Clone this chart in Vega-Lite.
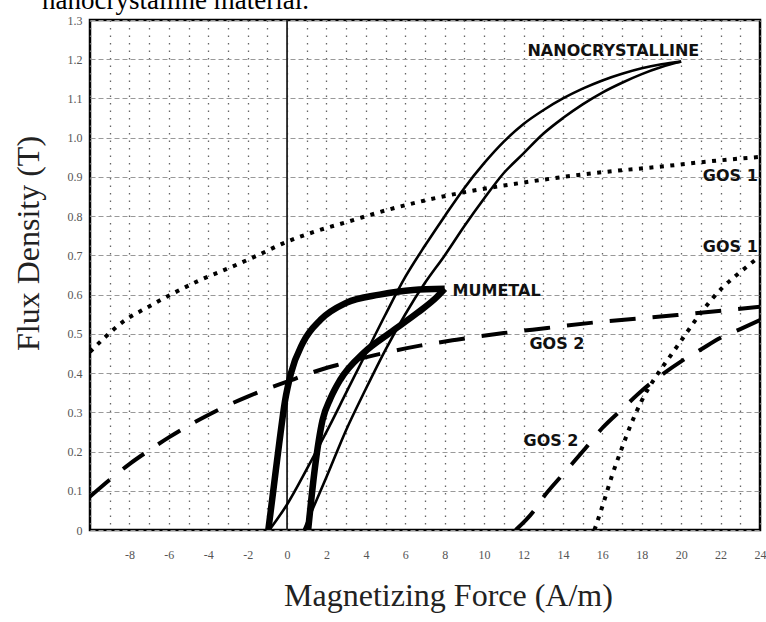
{
  "$schema": "https://vega.github.io/schema/vega-lite/v6.json",
  "width": 670,
  "height": 510,
  "autosize": {"type": "none"},
  "padding": {"left": 90, "top": 20, "right": 6, "bottom": 92},
  "background": "#ffffff",
  "title": {"text": "nanocrystalline material.", "anchor": "start", "frame": "group", "font": "Liberation Serif", "fontSize": 27, "fontWeight": "normal", "color": "#000000", "offset": 3, "baseline": "alphabetic", "dx": -48, "dy": 25},
  "config": {"view": {"stroke": "#000000", "strokeWidth": 2.5}},
  "datasets": {
    "curves": [
      {"c":"nanoA","x":-0.9,"y":0},{"c":"nanoA","x":0,"y":0.065},{"c":"nanoA","x":1,"y":0.155},{"c":"nanoA","x":2,"y":0.25},{"c":"nanoA","x":3,"y":0.35},{"c":"nanoA","x":4,"y":0.45},{"c":"nanoA","x":5,"y":0.55},{"c":"nanoA","x":6,"y":0.645},{"c":"nanoA","x":7,"y":0.725},{"c":"nanoA","x":8,"y":0.8},{"c":"nanoA","x":9,"y":0.872},{"c":"nanoA","x":10,"y":0.935},{"c":"nanoA","x":11,"y":0.99},{"c":"nanoA","x":12,"y":1.035},{"c":"nanoA","x":13,"y":1.07},{"c":"nanoA","x":14,"y":1.1},{"c":"nanoA","x":15,"y":1.125},{"c":"nanoA","x":16,"y":1.146},{"c":"nanoA","x":17,"y":1.163},{"c":"nanoA","x":18,"y":1.177},{"c":"nanoA","x":19,"y":1.187},{"c":"nanoA","x":20,"y":1.194},
      {"c":"nanoB","x":0.85,"y":0},{"c":"nanoB","x":1.27,"y":0.05},{"c":"nanoB","x":2,"y":0.135},{"c":"nanoB","x":3,"y":0.255},{"c":"nanoB","x":4,"y":0.36},{"c":"nanoB","x":5,"y":0.46},{"c":"nanoB","x":6,"y":0.55},{"c":"nanoB","x":7,"y":0.63},{"c":"nanoB","x":8,"y":0.7},{"c":"nanoB","x":9,"y":0.775},{"c":"nanoB","x":10,"y":0.845},{"c":"nanoB","x":11,"y":0.91},{"c":"nanoB","x":12,"y":0.96},{"c":"nanoB","x":13,"y":1.01},{"c":"nanoB","x":14,"y":1.05},{"c":"nanoB","x":15,"y":1.085},{"c":"nanoB","x":16,"y":1.115},{"c":"nanoB","x":17,"y":1.14},{"c":"nanoB","x":18,"y":1.162},{"c":"nanoB","x":19,"y":1.18},{"c":"nanoB","x":20,"y":1.194},
      {"c":"muA","x":-0.95,"y":0},{"c":"muA","x":-0.7,"y":0.1},{"c":"muA","x":-0.4,"y":0.22},{"c":"muA","x":-0.1,"y":0.33},{"c":"muA","x":0.2,"y":0.4},{"c":"muA","x":0.8,"y":0.477},{"c":"muA","x":1.7,"y":0.536},{"c":"muA","x":3,"y":0.579},{"c":"muA","x":4.7,"y":0.6},{"c":"muA","x":6.4,"y":0.612},{"c":"muA","x":8,"y":0.615},
      {"c":"muB","x":1.07,"y":0},{"c":"muB","x":1.4,"y":0.153},{"c":"muB","x":1.8,"y":0.28},{"c":"muB","x":2.2,"y":0.335},{"c":"muB","x":2.7,"y":0.383},{"c":"muB","x":3.9,"y":0.452},{"c":"muB","x":5.2,"y":0.502},{"c":"muB","x":6.6,"y":0.553},{"c":"muB","x":7.6,"y":0.594},{"c":"muB","x":8,"y":0.615},
      {"c":"gos1a","x":-10,"y":0.454},{"c":"gos1a","x":-9.2,"y":0.493},{"c":"gos1a","x":-8.4,"y":0.528},{"c":"gos1a","x":-7,"y":0.57},{"c":"gos1a","x":-5.9,"y":0.6},{"c":"gos1a","x":-4.5,"y":0.635},{"c":"gos1a","x":-2.8,"y":0.671},{"c":"gos1a","x":-1.5,"y":0.7},{"c":"gos1a","x":0,"y":0.735},{"c":"gos1a","x":1.5,"y":0.762},{"c":"gos1a","x":3.1,"y":0.786},{"c":"gos1a","x":5.1,"y":0.816},{"c":"gos1a","x":7,"y":0.84},{"c":"gos1a","x":9.1,"y":0.862},{"c":"gos1a","x":11,"y":0.878},{"c":"gos1a","x":13,"y":0.893},{"c":"gos1a","x":16,"y":0.912},{"c":"gos1a","x":18.9,"y":0.926},{"c":"gos1a","x":21.5,"y":0.94},{"c":"gos1a","x":24,"y":0.951},
      {"c":"gos1b","x":15.6,"y":0},{"c":"gos1b","x":16,"y":0.06},{"c":"gos1b","x":16.5,"y":0.14},{"c":"gos1b","x":17,"y":0.21},{"c":"gos1b","x":17.5,"y":0.275},{"c":"gos1b","x":18,"y":0.33},{"c":"gos1b","x":18.7,"y":0.39},{"c":"gos1b","x":19.4,"y":0.44},{"c":"gos1b","x":20.1,"y":0.49},{"c":"gos1b","x":20.8,"y":0.54},{"c":"gos1b","x":21.5,"y":0.585},{"c":"gos1b","x":22.1,"y":0.618},{"c":"gos1b","x":22.7,"y":0.645},{"c":"gos1b","x":23.35,"y":0.672},{"c":"gos1b","x":24,"y":0.698},
      {"c":"gos2a","x":-10,"y":0.085},{"c":"gos2a","x":-9,"y":0.128},{"c":"gos2a","x":-8,"y":0.168},{"c":"gos2a","x":-7,"y":0.203},{"c":"gos2a","x":-6,"y":0.236},{"c":"gos2a","x":-5,"y":0.266},{"c":"gos2a","x":-4,"y":0.293},{"c":"gos2a","x":-3,"y":0.318},{"c":"gos2a","x":-2,"y":0.34},{"c":"gos2a","x":-1,"y":0.36},{"c":"gos2a","x":0,"y":0.378},{"c":"gos2a","x":1.3,"y":0.402},{"c":"gos2a","x":2.5,"y":0.42},{"c":"gos2a","x":4.4,"y":0.445},{"c":"gos2a","x":6.75,"y":0.47},{"c":"gos2a","x":8.6,"y":0.485},{"c":"gos2a","x":11,"y":0.502},{"c":"gos2a","x":13.2,"y":0.515},{"c":"gos2a","x":15.4,"y":0.528},{"c":"gos2a","x":19.8,"y":0.548},{"c":"gos2a","x":24,"y":0.569},
      {"c":"gos2b","x":11.6,"y":0},{"c":"gos2b","x":12.5,"y":0.047},{"c":"gos2b","x":13,"y":0.083},{"c":"gos2b","x":14,"y":0.142},{"c":"gos2b","x":15,"y":0.2},{"c":"gos2b","x":16,"y":0.26},{"c":"gos2b","x":17,"y":0.308},{"c":"gos2b","x":18,"y":0.355},{"c":"gos2b","x":19,"y":0.395},{"c":"gos2b","x":20,"y":0.43},{"c":"gos2b","x":21,"y":0.46},{"c":"gos2b","x":22,"y":0.49},{"c":"gos2b","x":23,"y":0.512},{"c":"gos2b","x":24,"y":0.535}
    ],
    "labels": [
      {"label":"NANOCRYSTALLINE","x":12.2,"y":1.222},
      {"label":"MUMETAL","x":8.4,"y":0.61},
      {"label":"GOS 2","x":12.3,"y":0.474},
      {"label":"GOS 1","x":21.1,"y":0.903},
      {"label":"GOS 1","x":21.1,"y":0.722},
      {"label":"GOS 2","x":12.0,"y":0.227}
    ],
    "zero": [{"x":0,"y":0,"y2":1.3}]
  },
  "encoding": {
    "x": {"field": "x", "type": "quantitative",
      "scale": {"domain": [-10, 24], "nice": false, "zero": false},
      "axis": {
        "values": [-10,-9,-8,-7,-6,-5,-4,-3,-2,-1,0,1,2,3,4,5,6,7,8,9,10,11,12,13,14,15,16,17,18,19,20,21,22,23,24],
        "labelExpr": "(datum.value % 2 == 0 && datum.value > -10) ? ('' + datum.value) : ''",
        "grid": true, "gridDash": [1.5, 6], "gridColor": "#666666", "gridWidth": 1.3,
        "ticks": false, "domain": false,
        "labelPadding": 19, "labelFont": "Liberation Serif", "labelFontSize": 12, "labelColor": "#555555",
        "labelOverlap": false, "labelFlush": false,
        "title": "Magnetizing Force (A/m)", "titleFont": "Liberation Serif", "titleFontSize": 32, "titleFontWeight": "normal", "titleColor": "#222222",
        "titleX": 358, "titleY": 75, "titleAlign": "center", "titleBaseline": "alphabetic"
      }},
    "y": {"field": "y", "type": "quantitative",
      "scale": {"domain": [0, 1.3], "nice": false, "zero": false},
      "axis": {
        "values": [0,0.1,0.2,0.3,0.4,0.5,0.6,0.7,0.8,0.9,1.0,1.1,1.2,1.3],
        "labelExpr": "datum.value == 0 ? '0' : format(datum.value, '.1f')",
        "grid": true, "gridDash": [5, 3], "gridColor": "#999999", "gridWidth": 1,
        "ticks": false, "domain": false,
        "labelPadding": 8, "labelFont": "Liberation Serif", "labelFontSize": 12, "labelColor": "#555555",
        "labelOverlap": false, "labelFlush": false,
        "title": "Flux Density (T)", "titleFont": "Liberation Serif", "titleFontSize": 32, "titleFontWeight": "normal", "titleColor": "#222222",
        "titleX": -62, "titleY": 223, "titleAlign": "center", "titleBaseline": "middle", "titleAngle": -90
      }}
  },
  "layer": [
    {
      "data": {"name": "zero"},
      "mark": {"type": "rule", "color": "#222222", "strokeWidth": 1.8},
      "encoding": {"y2": {"field": "y2"}}
    },
    {
      "data": {"name": "curves"},
      "transform": [{"filter": "datum.c == 'nanoA' || datum.c == 'nanoB'"}],
      "mark": {"type": "line", "color": "#000000", "strokeWidth": 2.6, "interpolate": "monotone", "clip": true},
      "encoding": {"detail": {"field": "c"}}
    },
    {
      "data": {"name": "curves"},
      "transform": [{"filter": "datum.c == 'muA' || datum.c == 'muB'"}],
      "mark": {"type": "line", "color": "#000000", "strokeWidth": 6.5, "interpolate": "monotone", "clip": true},
      "encoding": {"detail": {"field": "c"}}
    },
    {
      "data": {"name": "curves"},
      "transform": [{"filter": "datum.c == 'gos1a' || datum.c == 'gos1b'"}],
      "mark": {"type": "line", "color": "#000000", "strokeWidth": 4, "strokeDash": [4, 6.5], "strokeCap": "butt", "interpolate": "monotone", "clip": true},
      "encoding": {"detail": {"field": "c"}}
    },
    {
      "data": {"name": "curves"},
      "transform": [{"filter": "datum.c == 'gos2a' || datum.c == 'gos2b'"}],
      "mark": {"type": "line", "color": "#000000", "strokeWidth": 4, "strokeDash": [26, 17], "strokeCap": "butt", "interpolate": "monotone", "clip": true},
      "encoding": {"detail": {"field": "c"}}
    },
    {
      "data": {"name": "labels"},
      "mark": {"type": "text", "font": "DejaVu Sans", "fontWeight": "bold", "fontSize": 16, "color": "#111111", "align": "left", "baseline": "middle"},
      "encoding": {"text": {"field": "label"}}
    }
  ]
}
